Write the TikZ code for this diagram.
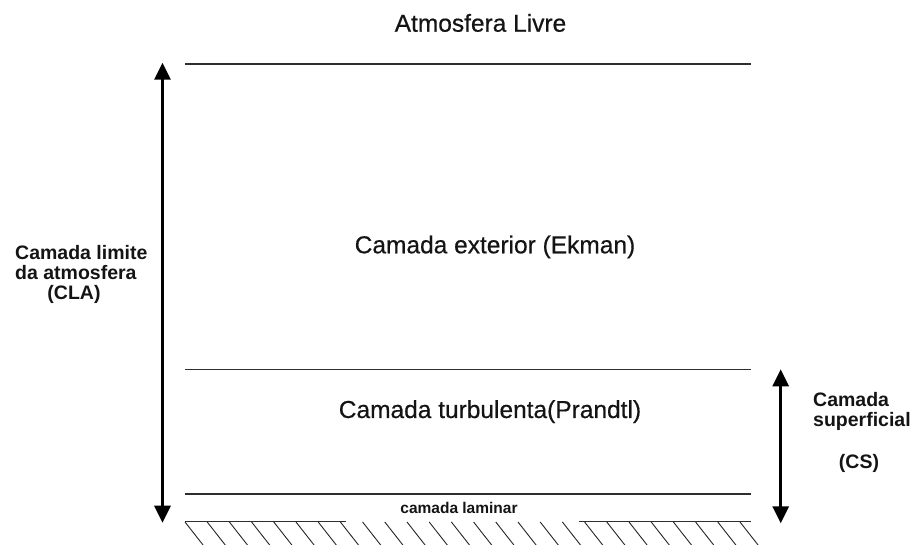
\documentclass[tikz,border=0pt]{standalone}
\usepackage{fontspec}
\setmainfont{Liberation Sans}
\newfontfamily\medfont{Liberation Sans}[FakeBold=0.5]
\usetikzlibrary{arrows.meta}
\begin{document}
\begin{tikzpicture}[x=1pt,y=-1pt,
  layerline/.style={draw=black!82, line width=1.3pt},
  hatchline/.style={draw=black!85, line width=0.9pt},
  dblarrow/.style={draw=black, line width=3pt,
    {Triangle[width=16pt,length=17pt]}-{Triangle[width=16pt,length=17pt]}},
  lbl/.style={inner sep=0pt, anchor=base, text=black!92, font=\medfont\fontsize{24.5}{28}\selectfont},
  sidelbl/.style={inner sep=0pt, anchor=base west, text=black!92, font=\bfseries\fontsize{19.5}{22}\selectfont},
  sidelblc/.style={inner sep=0pt, anchor=base, text=black!92, font=\bfseries\fontsize{19.5}{22}\selectfont},
  smalllbl/.style={inner sep=0pt, anchor=base, text=black!92, font=\bfseries\fontsize{15.5}{18}\selectfont}]
\useasboundingbox[fill=white] (0,0) rectangle (914,545);

% layer boundaries
\coordinate (t1) at (185,64);   \coordinate (t2) at (751,64);
\coordinate (m1) at (185,369.5); \coordinate (m2) at (751,369.5);
\coordinate (l1) at (185,494);  \coordinate (l2) at (751,494);
\coordinate (g1) at (185,521.7); \coordinate (g2) at (345.7,521.7);
\coordinate (g3) at (578.7,521.7); \coordinate (g4) at (751,521.7);
\draw[layerline] (t1) -- (t2);
\draw[layerline] (m1) -- (m2);
\draw[layerline] (l1) -- (l2);
\draw[layerline] (g1) -- (g2);
\draw[layerline] (g3) -- (g4);

% ground hatching
\foreach \k in {0,...,25}
  \draw[hatchline] ({185+22.2*\k},522) -- ++(18.3,23.3);

% arrows
\coordinate (la1) at (162.5,62.7); \coordinate (la2) at (162.5,522.7);
\coordinate (ra1) at (780.7,369.3); \coordinate (ra2) at (780.7,523.3);
\draw[dblarrow] (la1) -- (la2);
\draw[dblarrow] (ra1) -- (ra2);

% texts
\node[lbl] (title) at (480.5,31.7) {Atmosfera Livre};
\node[lbl] (ekman) at (495,253.3) {Camada exterior (Ekman)};
\node[lbl] (prandtl) at (490,418) {Camada turbulenta(Prandtl)};
\node[smalllbl] (laminar) at (459,514) {camada laminar};

\node[sidelbl] (cla1) at (15,259.3) {Camada limite};
\node[sidelbl] (cla2) at (15,279.5) {da atmosfera};
\node[sidelblc] (cla3) at (74,299.5) {(CLA)};

\node[sidelbl] (cs1) at (813,406.7) {Camada};
\node[sidelbl] (cs2) at (813,427) {superficial};
\node[sidelblc] (cs3) at (859,469) {(CS)};
\end{tikzpicture}
\end{document}
